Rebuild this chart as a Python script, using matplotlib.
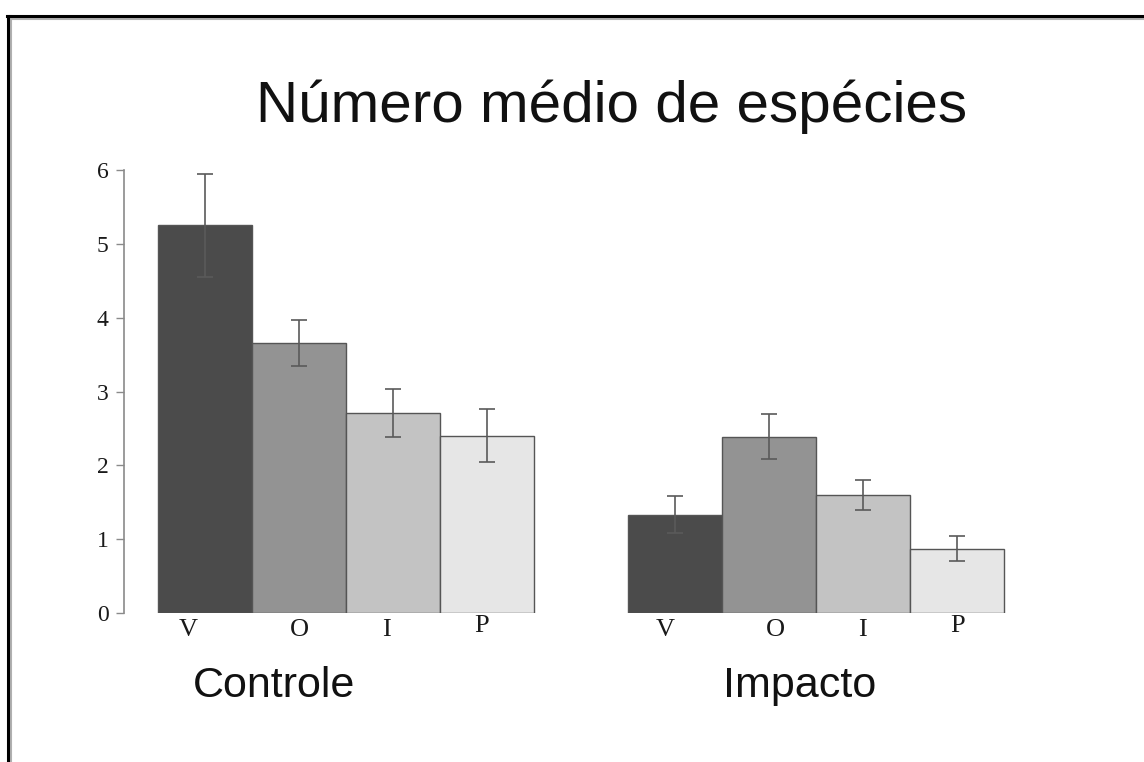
import matplotlib
matplotlib.use("Agg")
import matplotlib.pyplot as plt
from matplotlib.lines import Line2D
import numpy as np

# Mean number of species per group, with standard errors
categories = ["V", "O", "I", "P"]
groups = ["Controle", "Impacto"]
controle_mean = [5.25, 3.66, 2.71, 2.40]
controle_err = [0.70, 0.31, 0.32, 0.36]
impacto_mean = [1.33, 2.39, 1.60, 0.87]
impacto_err = [0.25, 0.31, 0.20, 0.17]
yticks = [0, 1, 2, 3, 4, 5, 6]

bar_colors = ["#4b4b4b", "#939393", "#c3c3c3", "#e6e6e6"]
# small horizontal nudges of the category letters (in bar widths)
label_shift = [[-0.18, 0.0, -0.07, -0.06], [-0.10, 0.07, -0.01, 0.01]]
label_raise = [0.0, 0.0, 0.0, 0.06]

fig = plt.figure(figsize=(11.44, 7.62), dpi=100)
ax = fig.add_axes([124 / 1144, 149 / 762, 927 / 1144, 443 / 762])

group_start = [0, 5]
for g, (means, errs) in enumerate([(controle_mean, controle_err),
                                   (impacto_mean, impacto_err)]):
    x = group_start[g] + np.arange(len(categories))
    ax.bar(x, means, width=1.0, color=bar_colors, edgecolor="#555555",
           linewidth=1.0, zorder=2)
    ax.errorbar(x, means, yerr=errs, fmt="none", ecolor="#5a5a5a",
                elinewidth=1.2, capsize=6, capthick=1.2, zorder=3)
    for i, cat in enumerate(categories):
        ax.text(x[i] + label_shift[g][i], -0.235 + label_raise[i], cat,
                ha="center", va="center", fontsize=19,
                family="Liberation Serif", color="#1a1a1a")

ax.set_xlim(-0.862, 9.0)
ax.set_ylim(0, 6)
ax.set_yticks(yticks)
ax.set_yticklabels([str(t) for t in yticks], family="Liberation Serif",
                   fontsize=17, color="#1a1a1a")
ax.set_xticks([])
for side in ["top", "right", "bottom"]:
    ax.spines[side].set_visible(False)
ax.spines["left"].set_color("#8a8a8a")
ax.spines["left"].set_linewidth(1.2)
ax.tick_params(axis="y", length=6, width=1.0, color="#8a8a8a", pad=5)
ax.patch.set_alpha(0)

fig.text(612 / 1144, 1 - 122 / 762, "Número médio de espécies",
         ha="center", va="baseline", fontsize=42, family="Liberation Sans",
         color="#111111")
fig.text(274 / 1144, 1 - 697 / 762, groups[0], ha="center", va="baseline",
         fontsize=31, family="Liberation Sans", color="#111111")
fig.text(800 / 1144, 1 - 697 / 762, groups[1], ha="center", va="baseline",
         fontsize=31, family="Liberation Sans", color="#111111")

# frame lines along the top and left edges
top_y = 1 - 16 / 762
left_x = 8 / 1144
fig.add_artist(Line2D([left_x, 1], [top_y - 2.5 / 762, top_y - 2.5 / 762],
                      transform=fig.transFigure, color="#b0b0b0", lw=1.5))
fig.add_artist(Line2D([left_x + 2.5 / 1144, left_x + 2.5 / 1144],
                      [0, top_y], transform=fig.transFigure,
                      color="#b0b0b0", lw=1.5))
fig.add_artist(Line2D([left_x - 1 / 1144, 1], [top_y, top_y],
                      transform=fig.transFigure, color="black", lw=2.2))
fig.add_artist(Line2D([left_x, left_x], [0, top_y],
                      transform=fig.transFigure, color="black", lw=2.2))

fig.savefig("out.png", dpi=100, facecolor="white")
